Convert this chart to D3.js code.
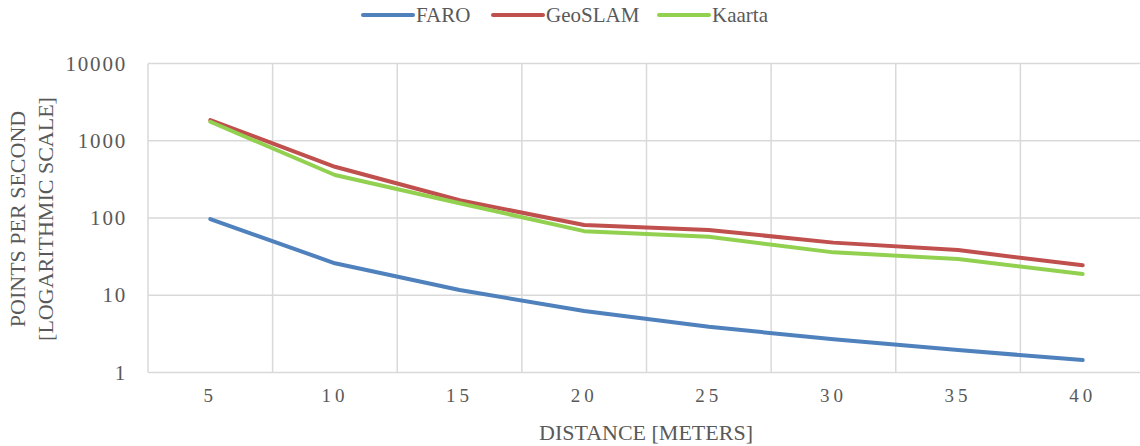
<!DOCTYPE html>
<html>
<head>
<meta charset="utf-8">
<script src="https://cdn.jsdelivr.net/npm/d3@7"></script>
<style>
  body { margin: 0; background: #fff; }
  svg { display: block; }
  svg text { font-family: "Liberation Serif", "Times New Roman", serif; }
</style>
</head>
<body>
<svg id="chart"></svg>
<script>
// data
const distances = ["5", "10", "15", "20", "25", "30", "35", "40"];
const faro = [97, 25.9, 11.7, 6.25, 3.9, 2.69, 1.95, 1.45];
const geoslam = [1850, 460, 170, 81, 70, 48, 38.4, 24.4];
const kaarta = [1760, 360, 155, 67.6, 57, 35.9, 29.4, 18.8];
const seriesNames = ["FARO", "GeoSLAM", "Kaarta"];
const seriesColors = ["#4F81BD", "#C0504D", "#92D050"];
const yTicks = [1, 10, 100, 1000, 10000];

const series = [faro, geoslam, kaarta].map((values, i) => ({
  name: seriesNames[i],
  color: seriesColors[i],
  values: values,
}));

// dimensions
const width = 1140;
const height = 446;
const margin = { top: 63.5, right: -5, bottom: 73.5, left: 148 };
const textColor = "#595959";
const gridColor = "#D9D9D9";

const svg = d3.select("#chart").attr("width", width).attr("height", height);

const x = d3
  .scaleBand()
  .domain(distances)
  .range([margin.left, width - margin.right]);

const y = d3
  .scaleLog()
  .domain([1, 10000])
  .range([height - margin.bottom, margin.top]);

// grid
const grid = svg.append("g").attr("stroke", gridColor).attr("stroke-width", 1.5);
grid
  .selectAll(".hgrid")
  .data(yTicks)
  .join("line")
  .attr("x1", margin.left)
  .attr("x2", width - margin.right)
  .attr("y1", (d) => y(d))
  .attr("y2", (d) => y(d));
grid
  .selectAll(".vgrid")
  .data(distances.concat(["end"]))
  .join("line")
  .attr("x1", (d, i) => margin.left + i * x.step())
  .attr("x2", (d, i) => margin.left + i * x.step())
  .attr("y1", y(1))
  .attr("y2", y(10000));

// y axis labels
const yAxis = d3
  .axisLeft(y)
  .tickValues(yTicks)
  .tickFormat(d3.format("d"))
  .tickSize(0)
  .tickPadding(21);
svg
  .append("g")
  .attr("transform", `translate(${margin.left},0)`)
  .call(yAxis)
  .call((g) => g.select(".domain").remove())
  .call((g) =>
    g
      .selectAll("text")
      .attr("fill", textColor)
      .attr("font-size", 21)
      .attr("letter-spacing", 1.8)
  );

// x axis labels
const xAxis = d3.axisBottom(x).tickSize(0).tickPadding(16);
svg
  .append("g")
  .attr("transform", `translate(0,${y(1)})`)
  .call(xAxis)
  .call((g) => g.select(".domain").remove())
  .call((g) =>
    g
      .selectAll("text")
      .attr("fill", textColor)
      .attr("font-size", 19)
      .attr("letter-spacing", 4)
  );

// lines
const line = d3
  .line()
  .x((d, i) => x(distances[i]) + x.bandwidth() / 2)
  .y((d) => y(d));

svg
  .append("g")
  .selectAll("path")
  .data(series)
  .join("path")
  .attr("fill", "none")
  .attr("stroke", (d) => d.color)
  .attr("stroke-width", 4)
  .attr("stroke-linejoin", "round")
  .attr("stroke-linecap", "round")
  .attr("d", (d) => line(d.values));

// axis titles
svg
  .append("text")
  .attr("x", 646)
  .attr("y", 440)
  .attr("text-anchor", "middle")
  .attr("fill", textColor)
  .attr("font-size", 22)
  .text("DISTANCE [METERS]");

const yTitle = svg
  .append("text")
  .attr("transform", "translate(0,219) rotate(-90)")
  .attr("text-anchor", "middle")
  .attr("fill", textColor)
  .attr("font-size", 22);
yTitle.append("tspan").attr("x", 0).attr("y", 25).text("POINTS PER SECOND");
yTitle.append("tspan").attr("x", 0).attr("y", 53).text("[LOGARITHMIC SCALE]");

// legend
const legendX = [363, 493, 659];
const legend = svg
  .append("g")
  .selectAll("g")
  .data(series)
  .join("g")
  .attr("transform", (d, i) => `translate(${legendX[i]},15)`);
legend
  .append("line")
  .attr("x1", 0)
  .attr("x2", 50)
  .attr("stroke", (d) => d.color)
  .attr("stroke-width", 4)
  .attr("stroke-linecap", "round");
legend
  .append("text")
  .attr("x", 53)
  .attr("y", 7)
  .attr("fill", textColor)
  .attr("font-size", 21)
  .text((d) => d.name);
</script>
</body>
</html>
